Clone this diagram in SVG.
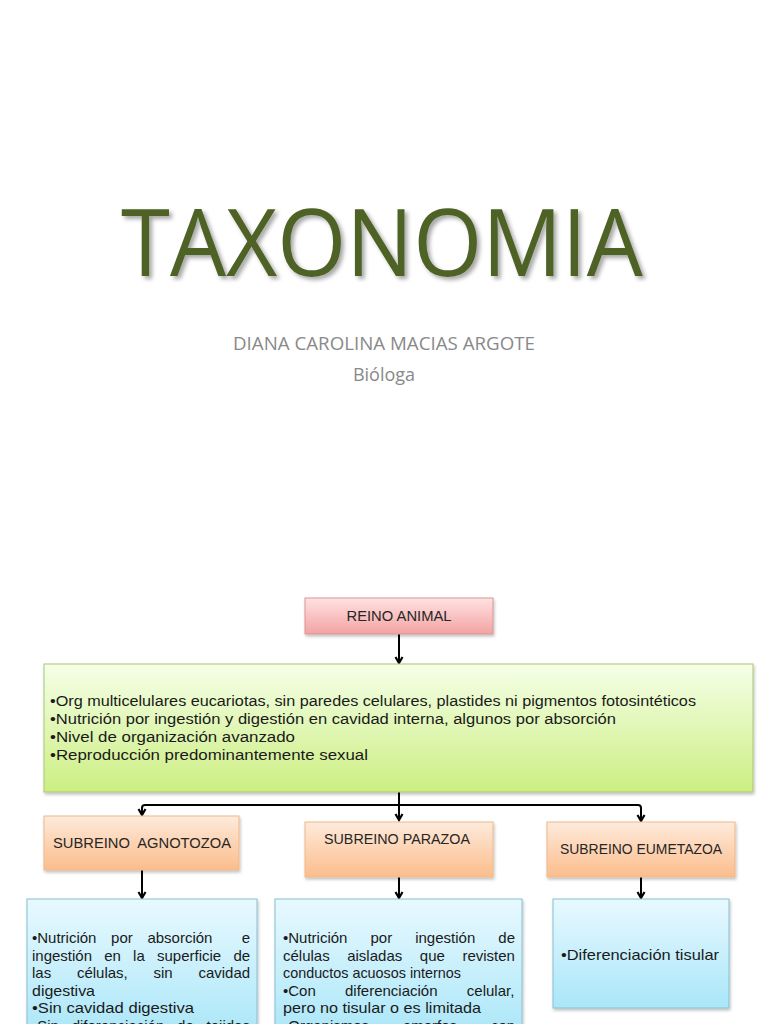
<svg xmlns="http://www.w3.org/2000/svg" width="768" height="1024" viewBox="0 0 768 1024">
<defs>
<linearGradient id="gPink" x1="0" y1="0" x2="0" y2="1"><stop offset="0" stop-color="#ffe2e2"/><stop offset="1" stop-color="#f3a3a3"/></linearGradient>
<linearGradient id="gGreen" x1="0" y1="0" x2="0" y2="1"><stop offset="0" stop-color="#f5ffe8"/><stop offset="1" stop-color="#ccee82"/></linearGradient>
<linearGradient id="gOrange" x1="0" y1="0" x2="0" y2="1"><stop offset="0" stop-color="#feeadb"/><stop offset="1" stop-color="#fbbd8c"/></linearGradient>
<linearGradient id="gBlue" x1="0" y1="0" x2="0" y2="1"><stop offset="0" stop-color="#e8f9ff"/><stop offset="1" stop-color="#a9e6f8"/></linearGradient>
<filter id="sh" x="-10%" y="-10%" width="120%" height="130%"><feDropShadow dx="1" dy="2" stdDeviation="1.5" flood-color="#000" flood-opacity="0.25"/></filter>
<filter id="tsh" x="-5%" y="-5%" width="110%" height="120%"><feDropShadow dx="3" dy="3" stdDeviation="2" flood-color="#000" flood-opacity="0.35"/></filter>
<marker id="arr" markerWidth="10" markerHeight="10" refX="8" refY="5" orient="auto" markerUnits="userSpaceOnUse" viewBox="0 0 10 10">
<path d="M2,1.5 L8,5 L2,8.5" fill="none" stroke="#000" stroke-width="2.2"/>
</marker>
</defs>
<style>
.title{font-family:"Open Sans","Liberation Sans",sans-serif;font-size:94px;fill:#4f6228}
.sub{font-family:"Open Sans","Liberation Sans",sans-serif;font-size:18px;fill:#898989}
.bx{font-family:"Liberation Sans","DejaVu Sans",sans-serif;font-size:14px;fill:#262626;white-space:pre}
.bt{font-family:"Liberation Sans","DejaVu Sans",sans-serif;font-size:14px;fill:#1a1a1a}
.bd{font-family:"Liberation Sans","DejaVu Sans",sans-serif;font-size:15px;fill:#1a1a1a}
.con{fill:none;stroke:#000;stroke-width:2}
</style>
<rect width="768" height="1024" fill="#fff"/>

<g id="title">
<text class="title" x="382" y="276" text-anchor="middle" textLength="522" lengthAdjust="spacingAndGlyphs" filter="url(#tsh)">TAXONOMIA</text>
<text class="sub" x="384" y="350" text-anchor="middle" textLength="302" lengthAdjust="spacingAndGlyphs">DIANA CAROLINA MACIAS ARGOTE</text>
<text class="sub" x="384" y="381" text-anchor="middle">Bióloga</text>
</g>

<g id="connectors">
<line class="con" x1="399" y1="634" x2="399" y2="663" marker-end="url(#arr)"/>
<line class="con" x1="399" y1="792" x2="399" y2="820" marker-end="url(#arr)"/>
<path class="con" d="M399,805 H145 Q142,805 142,808 V815" marker-end="url(#arr)"/>
<path class="con" d="M399,805 H638 Q641,805 641,808 V821" marker-end="url(#arr)"/>
<line class="con" x1="142" y1="870" x2="142" y2="898" marker-end="url(#arr)"/>
<line class="con" x1="399" y1="877" x2="399" y2="898" marker-end="url(#arr)"/>
<line class="con" x1="641" y1="877" x2="641" y2="898" marker-end="url(#arr)"/>
</g>

<g id="reino-animal">
<rect x="305" y="598" width="188" height="36" fill="url(#gPink)" stroke="#d99594" stroke-width="1" filter="url(#sh)"/>
<text class="bx" x="399" y="621" text-anchor="middle" textLength="105" lengthAdjust="spacingAndGlyphs">REINO ANIMAL</text>
</g>

<g id="caracteristicas">
<rect x="44" y="664" width="709" height="128" fill="url(#gGreen)" stroke="#a9c774" stroke-width="1" filter="url(#sh)"/>
<text class="bt" x="50" y="706" textLength="646" lengthAdjust="spacingAndGlyphs">•Org multicelulares eucariotas, sin paredes celulares, plastides ni pigmentos fotosintéticos</text>
<text class="bt" x="50" y="724" textLength="566" lengthAdjust="spacingAndGlyphs">•Nutrición por ingestión y digestión en cavidad interna, algunos por absorción</text>
<text class="bt" x="50" y="742" textLength="245" lengthAdjust="spacingAndGlyphs">•Nivel de organización avanzado</text>
<text class="bt" x="50" y="760" textLength="318" lengthAdjust="spacingAndGlyphs">•Reproducción predominantemente sexual</text>
</g>

<g id="agnotozoa">
<rect x="44" y="816" width="195" height="54" fill="url(#gOrange)" stroke="#f0b888" stroke-width="1" filter="url(#sh)"/>
<text class="bx" x="142" y="848" text-anchor="middle" textLength="178" lengthAdjust="spacingAndGlyphs">SUBREINO  AGNOTOZOA</text>
</g>

<g id="parazoa">
<rect x="305" y="822" width="188" height="55" fill="url(#gOrange)" stroke="#f0b888" stroke-width="1" filter="url(#sh)"/>
<text class="bx" x="397" y="844" text-anchor="middle" textLength="146" lengthAdjust="spacingAndGlyphs">SUBREINO PARAZOA</text>
</g>

<g id="eumetazoa">
<rect x="547" y="822" width="188" height="55" fill="url(#gOrange)" stroke="#f0b888" stroke-width="1" filter="url(#sh)"/>
<text class="bx" x="641" y="854" text-anchor="middle" textLength="162" lengthAdjust="spacingAndGlyphs">SUBREINO EUMETAZOA</text>
</g>

<g id="agnotozoa-desc">
<rect x="27" y="899" width="230" height="140" fill="url(#gBlue)" stroke="#86bfd3" stroke-width="1" filter="url(#sh)"/>
<text class="bd" y="943"><tspan x="32">•Nutrición</tspan><tspan x="111.1">por</tspan><tspan x="147.4">absorción</tspan><tspan x="241.8">e</tspan></text>
<text class="bd" y="960.5"><tspan x="32">ingestión</tspan><tspan x="104.2">en</tspan><tspan x="133.1">la</tspan><tspan x="157">superficie</tspan><tspan x="233.4">de</tspan></text>
<text class="bd" y="978"><tspan x="32">las</tspan><tspan x="76.9">células,</tspan><tspan x="153.5">sin</tspan><tspan x="198.4">cavidad</tspan></text>
<text class="bd" x="32" y="995.5" textLength="63" lengthAdjust="spacingAndGlyphs">digestiva</text>
<text class="bd" x="32" y="1013" textLength="162" lengthAdjust="spacingAndGlyphs">•Sin cavidad digestiva</text>
<text class="bd" y="1030.5"><tspan x="32">•Sin</tspan><tspan x="71.7">diferenciación</tspan><tspan x="177.1">de</tspan><tspan x="206.6">tejidos</tspan></text>
</g>

<g id="parazoa-desc">
<rect x="275" y="899" width="247" height="140" fill="url(#gBlue)" stroke="#86bfd3" stroke-width="1" filter="url(#sh)"/>
<text class="bd" y="943"><tspan x="283">•Nutrición</tspan><tspan x="370.5">por</tspan><tspan x="415.2">ingestión</tspan><tspan x="498.3">de</tspan></text>
<text class="bd" y="960.5"><tspan x="283">células</tspan><tspan x="347.2">aisladas</tspan><tspan x="419.8">que</tspan><tspan x="462.4">revisten</tspan></text>
<text class="bd" x="283" y="978" textLength="178" lengthAdjust="spacingAndGlyphs">conductos acuosos internos</text>
<text class="bd" y="995.5"><tspan x="283">•Con</tspan><tspan x="345">diferenciación</tspan><tspan x="466.8">celular,</tspan></text>
<text class="bd" x="283" y="1013" textLength="198" lengthAdjust="spacingAndGlyphs">pero no tisular o es limitada</text>
<text class="bd" y="1030.5"><tspan x="283">•Organismos</tspan><tspan x="402.9">amorfos</tspan><tspan x="490.9">con</tspan></text>
</g>

<g id="eumetazoa-desc">
<rect x="553" y="899" width="176" height="109" fill="url(#gBlue)" stroke="#86bfd3" stroke-width="1" filter="url(#sh)"/>
<text class="bd" x="640" y="960" text-anchor="middle" textLength="158" lengthAdjust="spacingAndGlyphs">•Diferenciación tisular</text>
</g>
</svg>
